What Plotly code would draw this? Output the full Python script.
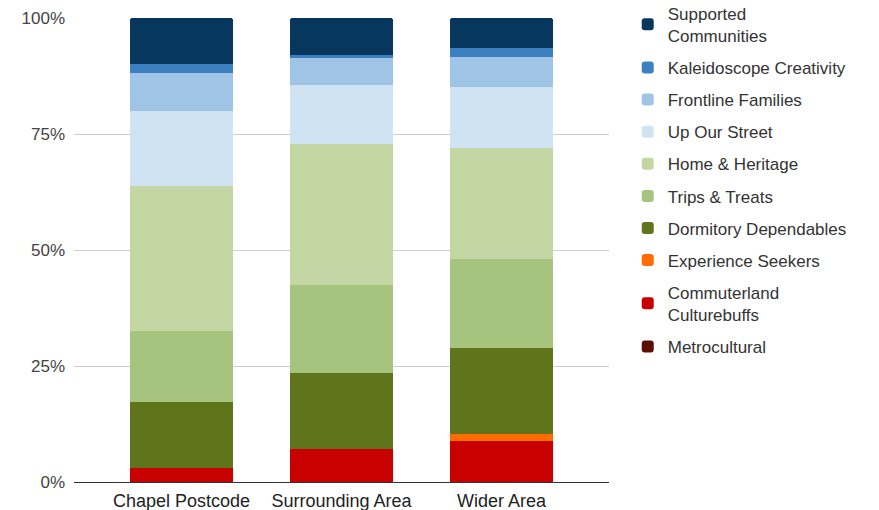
import plotly.graph_objects as go

categories = ["Chapel Postcode", "Surrounding Area", "Wider Area"]

# segment shares (%) per category, bottom of stack first
metrocultural = [0.0, 0.0, 0.0]
commuterland = [3.0, 7.2, 8.8]
experience = [0.0, 0.0, 1.6]
dormitory = [14.2, 16.2, 18.5]
trips = [15.3, 19.0, 19.1]
home_heritage = [31.3, 30.4, 23.9]
up_our_street = [16.2, 12.7, 13.3]
frontline = [8.1, 5.8, 6.4]
kaleidoscope = [1.9, 0.7, 2.0]
supported = [10.0, 8.0, 6.4]

series = [
    ("Metrocultural", metrocultural, "#5b0f00"),
    ("Commuterland<br>Culturebuffs", commuterland, "#c90000"),
    ("Experience Seekers", experience, "#ff6d01"),
    ("Dormitory Dependables", dormitory, "#5f741b"),
    ("Trips & Treats", trips, "#a7c47f"),
    ("Home & Heritage", home_heritage, "#c4d6a4"),
    ("Up Our Street", up_our_street, "#d0e3f3"),
    ("Frontline Families", frontline, "#9fc4e6"),
    ("Kaleidoscope Creativity", kaleidoscope, "#3d80c2"),
    ("Supported<br>Communities", supported, "#08375e"),
]

fig = go.Figure()
n = len(series)
for i, (name, vals, color) in enumerate(series):
    fig.add_trace(go.Bar(
        x=categories, y=vals, name=name,
        marker=dict(color=color, line=dict(width=0)),
        legendgroup="g%02d" % (n - i),
        legendrank=n - i,
        hoverinfo="skip",
    ))

FONT = "Liberation Sans, Arial, sans-serif"
fig.update_layout(
    width=879, height=510,
    barmode="stack",
    barnorm="percent",
    bargap=0.356,
    barcornerradius=3,
    margin=dict(l=74, r=270, t=18, b=28, autoexpand=False),
    paper_bgcolor="white",
    plot_bgcolor="white",
    font=dict(family=FONT, size=18, color="#333333"),
    showlegend=True,
    legend=dict(
        x=1.035, y=1.048, xanchor="left", yanchor="top",
        traceorder="grouped",
        tracegroupgap=7,
        maxheight=500,
        font=dict(family=FONT, size=17, color="#333333"),
        itemwidth=30,
    ),
    xaxis=dict(
        range=[-0.672, 2.672],
        showgrid=False,
        showline=False,
        automargin=False,
        ticklabelstandoff=6,
        tickfont=dict(family=FONT, size=18, color="#222222"),
        fixedrange=True,
    ),
    yaxis=dict(
        range=[0, 100],
        tickvals=[0, 25, 50, 75, 100],
        ticktext=["0%", "25%", "50%", "75%", "100%"],
        showgrid=True,
        gridcolor="#cccccc",
        gridwidth=1,
        zeroline=True,
        zerolinecolor="#333333",
        zerolinewidth=1,
        showline=False,
        automargin=False,
        ticklabelstandoff=8,
        tickfont=dict(family=FONT, size=17, color="#444444"),
        fixedrange=True,
    ),
)

fig.write_html("out.html")
